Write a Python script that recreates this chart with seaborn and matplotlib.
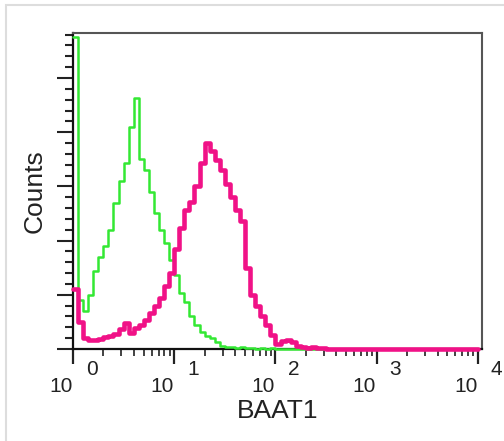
import numpy as np
import pandas as pd
import matplotlib
matplotlib.use("Agg")
import matplotlib.pyplot as plt
from matplotlib.patches import Rectangle
import seaborn as sns

# Histogram counts per bin, 20 bins per decade over 4 decades (log10 of BAAT1 intensity)
bins_per_decade = 20
decades = [0, 1, 2, 3, 4]
exponent_labels = ["0", "1", "2", "3", "4"]

isotype_counts = [288, 45, 35, 50, 72, 85, 95, 110, 135, 155,
                  172, 205, 232, 175, 165, 145, 125, 110, 98, 82,
                  68, 52, 43, 30, 22, 16, 12, 10, 6, 3,
                  2, 2, 1, 2, 1, 1, 0, 1, 0, 1,
                  0, 0, 0, 0, 0, 0, 0, 0, 0, 0,
                  0, 0, 0, 0, 0, 0, 0, 0, 0, 0,
                  0, 0, 0, 0, 0, 0, 0, 0, 0, 0,
                  0, 0, 0, 0, 0, 0, 0, 0, 0, 0]

baat1_counts = [55, 25, 10, 8, 8, 9, 11, 12, 14, 18,
                24, 15, 19, 22, 27, 33, 40, 47, 58, 70,
                92, 112, 128, 136, 150, 172, 190, 183, 174, 165,
                152, 140, 128, 118, 75, 50, 40, 30, 22, 13,
                5, 7, 8, 6, 3, 2, 1, 2, 1, 1,
                0, 0, 0, 0, 0, 0, 0, 0, 0, 0,
                0, 0, 0, 0, 0, 0, 0, 0, 0, 0,
                0, 0, 0, 0, 0, 0, 0, 0, 0, 0]

n_bins = len(baat1_counts)
edges = np.arange(n_bins + 1) / bins_per_decade
centers = (edges[:-1] + edges[1:]) / 2

iso_df = pd.DataFrame({"log_intensity": centers, "count": isotype_counts})
baat_df = pd.DataFrame({"log_intensity": centers, "count": baat1_counts})

sns.set_style("ticks")
plt.rcParams['font.family'] = ['Liberation Sans', 'DejaVu Sans']

fig = plt.figure(figsize=(5.04, 4.41), dpi=100)
ax = fig.add_axes([73 / 504, 92 / 441, 409 / 504, 316 / 441])

sns.histplot(data=iso_df, x="log_intensity", weights="count",
             binwidth=1 / bins_per_decade, binrange=(edges[0], edges[-1]),
             element="step", fill=False, color="#33e833",
             linewidth=1.8, clip_on=False, zorder=3, ax=ax)
sns.histplot(data=baat_df, x="log_intensity", weights="count",
             binwidth=1 / bins_per_decade, binrange=(edges[0], edges[-1]),
             element="step", fill=False, color="#f01287",
             linewidth=3.3, clip_on=False, zorder=4, ax=ax)

ax.set_xlim(0, 4.04)
ax.set_ylim(0, 291.5)

# log decade ticks
minor_x = [d + np.log10(m) for d in decades[:-1] for m in range(2, 10)]
ax.set_xticks(decades)
ax.set_xticks(minor_x, minor=True)
ax.set_xticklabels([])
ax.set_yticks(np.arange(0, 251, 50))
ax.set_yticks(np.arange(0, 291, 10), minor=True)
ax.set_yticklabels([])
ax.tick_params(axis="x", which="major", direction="out", length=11, width=1.6, color="#222222")
ax.tick_params(axis="x", which="minor", direction="out", length=5, width=1.2, color="#222222")
ax.tick_params(axis="y", which="major", direction="out", length=11.5, width=1.5, color="#222222")
ax.tick_params(axis="y", which="minor", direction="out", length=5.8, width=1.5, color="#222222")

for side in ["left", "bottom"]:
    ax.spines[side].set_color("#111111")
    ax.spines[side].set_linewidth(1.6)
for side in ["top", "right"]:
    ax.spines[side].set_visible(True)
    ax.spines[side].set_color("#555555")
    ax.spines[side].set_linewidth(1.5)

ax.set_xlabel("")
ax.set_ylabel("")

# flow-cytometer style "10" with offset exponent
tr = ax.get_xaxis_transform()
for d, e in zip(decades, exponent_labels):
    ax.text(d - 0.122, -0.120, "10", transform=tr, ha="center", va="center",
            fontsize=15, color="#222222")
    ax.text(d + 0.185, -0.066, e, transform=tr, ha="center", va="center",
            fontsize=15, color="#222222")

ax.text(0.5, -0.196, "BAAT1", transform=ax.transAxes, ha="center", va="center",
        fontsize=19, color="#222222")
ax.text(-0.095, 0.5, "Counts", transform=ax.transAxes, ha="center", va="center",
        rotation=90, fontsize=19, color="#222222")

# light outer frame (top and left edges inside the image)
fig.patches.append(Rectangle((6 / 504, -0.1), 1.2, 436 / 441 + 0.1,
                             transform=fig.transFigure, fill=False,
                             edgecolor="#dddddd", linewidth=1.5))

fig.savefig("out.png", dpi=100)
